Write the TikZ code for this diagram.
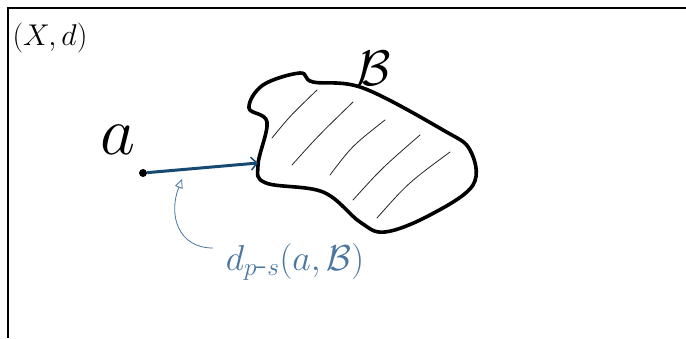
\RequirePackage{fix-cm}
\documentclass[tikz,border=0pt]{standalone}
\usetikzlibrary{arrows.meta}
\definecolor{arrowblue}{HTML}{174A72}
\definecolor{noteblue}{HTML}{4A76A0}
\begin{document}
\begin{tikzpicture}[x=1pt,y=-1pt,
  frame/.style={line width=2.6pt,black},
  blob/.style={line width=3.6pt,black,line join=round},
  hatch/.style={line width=0.8pt,black!85,line cap=round},
  hand/.style={inner sep=0pt},
  note/.style={inner sep=0pt,text=noteblue,font=\fontsize{36}{36}\selectfont}]
\useasboundingbox[fill=white] (0,0) rectangle (686,338);
% frame
\draw[frame] (686,8) -- (8,8) -- (8,338);
% labels
\node[hand,font=\fontsize{30}{30}\selectfont] (xd) at (50,38) {$(X,d)$};
\node[hand,font=\fontsize{50}{50}\selectfont] (bl) at (374,68) {$\mathcal{B}$};
\node[hand,font=\fontsize{68}{68}\selectfont] (al) at (118,140) {$a$};
\node[circle,fill=black,inner sep=0pt,minimum size=8pt] (dot) at (143,173) {};
\node[note] (dps) at (295,262) {$d_{p\mbox{-}s}(a,\mathcal{B})$};
% set B
\draw[blob] plot[smooth cycle,tension=0.6] coordinates {
  (300,73) (263,85) (249,108) (267,122) (258,165) (266,183)
  (323,192) (360,222) (385,232) (430,215) (473,185) (470,150)
  (443,130) (363,88) (313,82)};
\coordinate (hit) at (258,163);
% hatching
\draw[hatch] (272,138) .. controls (290,116) .. (317,90);
\draw[hatch] (292,165) .. controls (318,136) .. (353,102);
\draw[hatch] (330,175) .. controls (352,146) .. (385,120);
\draw[hatch] (353,200) .. controls (382,168) .. (420,135);
\draw[hatch] (377,218) .. controls (408,183) .. (450,152);
% distance arrow
\draw[arrowblue,line width=3pt,-{Straight Barb[length=6pt,width=13pt,line width=1.5pt]}] (dot) -- (hit);
% note arrow
\coordinate (tip) at (182,179);
\draw[noteblue,line width=0.8pt,-{Triangle[open,length=9pt,width=8pt]}]
  (213,248) .. controls (178,248) and (168,215) .. (tip);
\end{tikzpicture}
\end{document}
